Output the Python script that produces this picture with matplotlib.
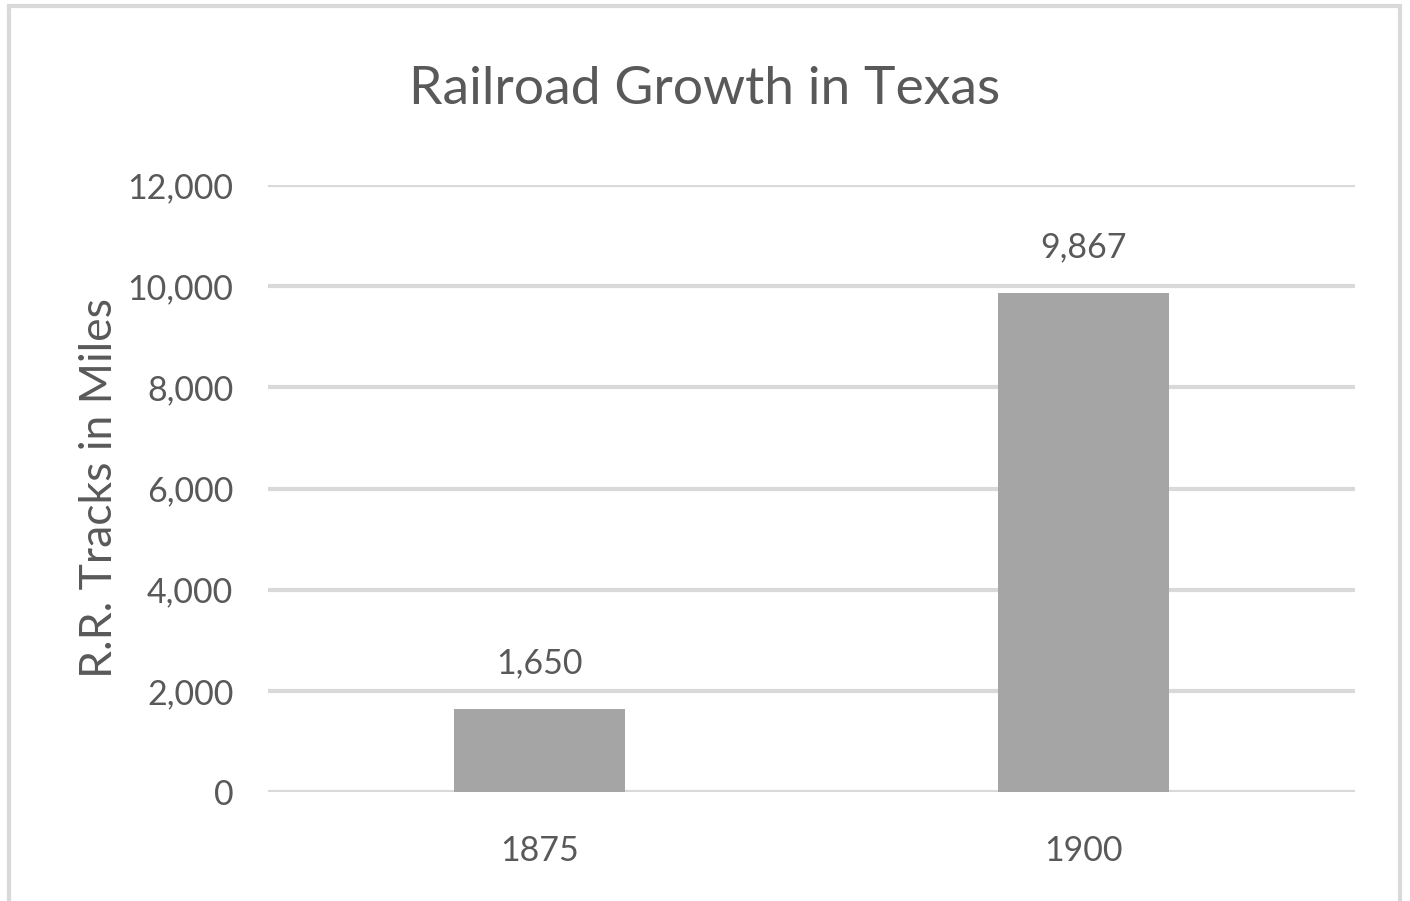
import numpy as np
import matplotlib
matplotlib.use('Agg')
import matplotlib.pyplot as plt
from matplotlib.patches import Rectangle
from matplotlib.ticker import FuncFormatter

# Datos del gráfico
years = ['1875', '1900']
miles = [1650, 9867]
y_ticks = [0, 2000, 4000, 6000, 8000, 10000, 12000]

plt.rcParams['font.family'] = ['Lato', 'DejaVu Sans']
text_color = '#595959'
grid_color = '#d9d9d9'
bar_color = '#a5a5a5'

fig = plt.figure(figsize=(14.10, 9.01), dpi=100)
ax = fig.add_axes([268 / 1410, 1 - 792 / 901, (1355 - 268) / 1410, (792 - 185) / 901])

x = np.arange(len(years))
bars = ax.bar(x, miles, width=0.315, color=bar_color, zorder=3)

ax.set_xlim(-0.5, len(years) - 0.5)
ax.set_ylim(0, 12000)
ax.set_yticks(y_ticks)
ax.yaxis.set_major_formatter(FuncFormatter(lambda v, p: f'{int(v):,}'))
ax.set_xticks(x)
ax.set_xticklabels(years)

# Líneas de cuadrícula horizontales
ax.grid(axis='y', color=grid_color, linewidth=3, zorder=0)
ax.set_axisbelow(True)
for s in ax.spines.values():
    s.set_visible(False)
ax.tick_params(axis='both', length=0, labelsize=24.5, labelcolor=text_color)
ax.tick_params(axis='y', pad=25)
ax.tick_params(axis='x', pad=31)

# Etiquetas de datos
for b, v in zip(bars, miles):
    ax.annotate(f'{v:,}', (b.get_x() + b.get_width() / 2, v), xytext=(0, 21),
                textcoords='offset points', ha='center', va='bottom',
                fontsize=24.5, color=text_color)

ax.set_ylabel('R.R. Tracks in Miles', fontsize=32, color=text_color, labelpad=5)
fig.text(705 / 1410, 1 - 89 / 901, 'Railroad Growth in Texas', ha='center', va='center',
         fontsize=38.5, color=text_color)

# Borde del gráfico
fig.patches.append(Rectangle((9 / 1410, -0.05), (1400 - 9) / 1410, 1.05 - 6 / 901,
                             transform=fig.transFigure, fill=False,
                             edgecolor=grid_color, linewidth=3, clip_on=False))

fig.savefig('out.png', dpi=100)
